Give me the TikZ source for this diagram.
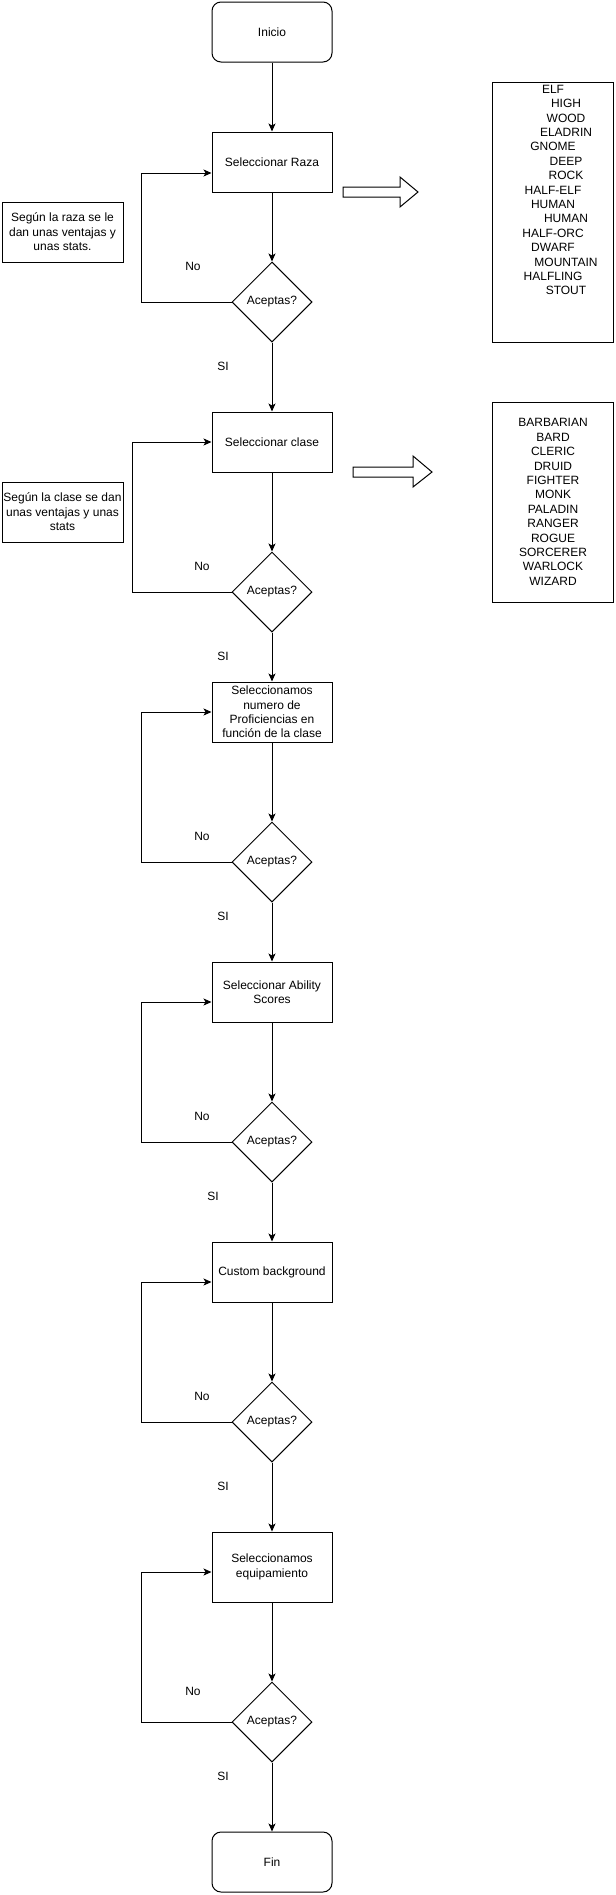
\documentclass[tikz,border=0pt]{standalone}
\usepackage{fontspec}
\setmainfont{Liberation Sans}
\usetikzlibrary{shapes.geometric,arrows.meta}

\begin{document}
\begin{tikzpicture}[x=0.75pt, y=-0.75pt, line width=0.75pt,
        font=\fontsize{9pt}{10.8pt}\selectfont,
        paso/.style={draw, rectangle, minimum width=90pt, minimum height=45pt, inner sep=1pt, align=center},
        terminal/.style={paso, rounded corners=6.75pt},
        decision/.style={draw, diamond, aspect=1, minimum size=60pt, inner sep=0pt},
        nota/.style={draw, rectangle, minimum width=90.75pt, minimum height=45pt, inner sep=0pt, align=center},
        lista/.style={draw, rectangle, minimum width=90.75pt, inner sep=0pt, align=center}]
    \useasboundingbox (0,0) rectangle (615,1895);

    \begin{scope}
                        \node [terminal] (inicio) at (272,32) {Inicio};
                        \node [paso] (raza) at (272,162) {Seleccionar Raza};
                        \node [decision] (dec1) at (272,302) {Aceptas?};
                        \node [paso] (clase) at (272,442) {Seleccionar clase};
                        \node [decision] (dec2) at (272,592) {Aceptas?};
                        \node [paso] (prof) at (272,712) {Seleccionamos\\numero de\\Proficiencias en\\función de la clase};
                        \node [decision] (dec3) at (272,862) {Aceptas?};
                        \node [paso] (ability) at (272,992) {Seleccionar Ability\\Scores};
                        \node [decision] (dec4) at (272,1142) {Aceptas?};
                        \node [paso] (custom) at (272,1272) {Custom background};
                        \node [decision] (dec5) at (272,1422) {Aceptas?};
                        \node [paso, minimum height=52.5pt] (equipo) at (272,1567) {Seleccionamos\\equipamiento};
                        \node [decision] (dec6) at (272,1722) {Aceptas?};
                        \node [terminal] (fin) at (272,1862) {Fin};
                \end{scope}

                \begin{scope}
                        \node [nota] (notaraza) at (62.5,232) {Según la raza se le\\dan unas ventajas y\\unas stats.};
                        \node [nota] (notaclase) at (62.5,512) {Según la clase se dan\\unas ventajas y unas\\stats};
                        \node [lista, minimum height=195pt] (razas) at (553,212) {};
                        \node [inner sep=0pt, align=center, anchor=north] (listarazas) at ([yshift=-2.25pt]razas.north)
                                {ELF\\\hspace*{19.5pt}HIGH\\\hspace*{19.5pt}WOOD\\\hspace*{19.5pt}ELADRIN\\GNOME\\\hspace*{19.5pt}DEEP\\\hspace*{19.5pt}ROCK\\HALF-ELF\\HUMAN\\\hspace*{19.5pt}HUMAN\\HALF-ORC\\DWARF\\\hspace*{19.5pt}MOUNTAIN\\HALFLING\\\hspace*{19.5pt}STOUT};
                        \node [lista, minimum height=150pt] (clases) at (553,502)
                                {BARBARIAN\\BARD\\CLERIC\\DRUID\\FIGHTER\\MONK\\PALADIN\\RANGER\\ROGUE\\SORCERER\\WARLOCK\\WIZARD};
                        % flechas huecas hacia las listas
                        \draw (343,187) -- (400,187) -- (400,177) -- (418,192) -- (400,207) -- (400,197) -- (343,197) -- cycle;
                        \draw (353,467) -- (413,467) -- (413,456) -- (432,472) -- (413,487) -- (413,477) -- (353,477) -- cycle;
                \end{scope}

                \begin{scope}[every node/.style={inner sep=0pt}]
                        \node (no1) at (193,266) {No};
                        \node (si1) at (223,366) {SI};
                        \node (no2) at (202,566) {No};
                        \node (si2) at (223,656) {SI};
                        \node (no3) at (202,836) {No};
                        \node (si3) at (223,916) {SI};
                        \node (no4) at (202,1116) {No};
                        \node (si4) at (213,1196) {SI};
                        \node (no5) at (202,1396) {No};
                        \node (si5) at (223,1486) {SI};
                        \node (no6) at (193,1691) {No};
                        \node (si6) at (223,1776) {SI};
                \end{scope}

                \begin{scope}[every path/.style={->, >={Stealth[length=6pt, width=5.25pt, inset=1.5pt]}}]
                        \path (inicio) edge (raza);
                        \path (raza) edge (dec1);
                        \path (dec1) edge (clase);
                        \path (clase) edge (dec2);
                        \path (dec2) edge (prof);
                        \path (prof) edge (dec3);
                        \path (dec3) edge (ability);
                        \path (ability) edge (dec4);
                        \path (dec4) edge (custom);
                        \path (custom) edge (dec5);
                        \path (dec5) edge (equipo);
                        \path (equipo) edge (dec6);
                        \path (dec6) edge (fin);
                        % vueltas atras (No)
                        \draw (dec1.west) -- ++(-90,0) |- ([yshift=-8.25pt]raza.west);
                        \draw (dec2.west) -- ++(-99,0) |- (clase.west);
                        \draw (dec3.west) -- ++(-90,0) |- (prof.west);
                        \draw (dec4.west) -- ++(-90,0) |- ([yshift=-7.5pt]ability.west);
                        \draw (dec5.west) -- ++(-90,0) |- ([yshift=-7.5pt]custom.west);
                        \draw (dec6.west) -- ++(-90,0) |- ([yshift=-3.75pt]equipo.west);
               \end{scope}
\end{tikzpicture}
\end{document}
